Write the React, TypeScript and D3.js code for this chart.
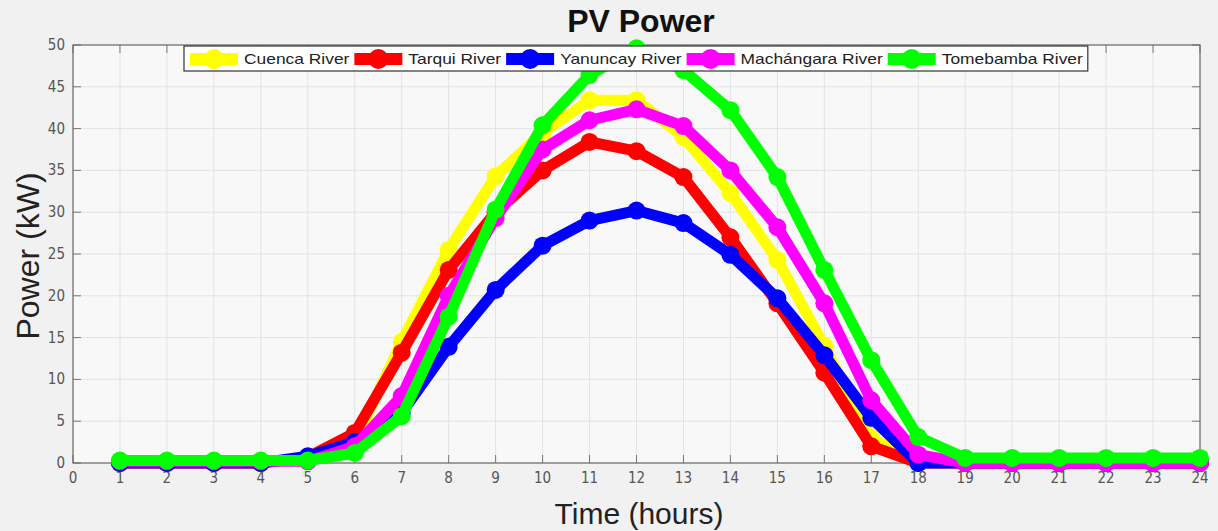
import { useEffect, useRef } from 'react';
import * as d3 from 'd3';

const hours = [1, 2, 3, 4, 5, 6, 7, 8, 9, 10, 11, 12, 13, 14, 15, 16, 17, 18, 19, 20, 21, 22, 23, 24];

const cuenca = [0, 0, 0, 0, 0.5, 2.5, 14.5, 25.5, 34.3, 39.5, 43.4, 43.4, 39, 32.3, 24.3, 14, 3, 0, 0, 0, 0, 0, 0, 0];
const tarqui = [0, 0, 0, 0, 0.7, 3.6, 13.2, 23.1, 30, 35, 38.4, 37.3, 34.2, 27, 19.1, 10.8, 2, 0, 0, 0, 0, 0, 0, 0];
const yanuncay = [0, 0, 0, 0, 0.8, 2.5, 6, 13.9, 20.7, 26, 29, 30.2, 28.7, 24.9, 19.7, 12.9, 5.4, 0, 0, 0, 0, 0, 0, 0];
const machangara = [0.2, 0.2, 0.2, 0.2, 0.2, 2, 8, 20, 29.3, 37.5, 41, 42.3, 40.3, 35, 28.2, 19.1, 7.5, 1, 0, 0, 0, 0, 0, 0];
const tomebamba = [0.3, 0.3, 0.3, 0.3, 0.3, 1.2, 5.6, 17.5, 30.3, 40.4, 46.4, 49.6, 47, 42.2, 34.2, 23.1, 12.3, 3.1, 0.6, 0.6, 0.6, 0.6, 0.6, 0.6];

const seriesNames = ['Cuenca River', 'Tarqui River', 'Yanuncay River', 'Machángara River', 'Tomebamba River'];
const seriesColors = ['#ffff00', '#ff0000', '#0000ff', '#ff00ff', '#00ff00'];
const seriesValues = [cuenca, tarqui, yanuncay, machangara, tomebamba];

const xTicks = d3.range(0, 25);
const yTicks = [0, 5, 10, 15, 20, 25, 30, 35, 40, 45, 50];

export default function App() {
  const svgRef = useRef<SVGSVGElement>(null);

  useEffect(() => {
    if (!svgRef.current) return;
    document.body.style.margin = '0';
    const svg = d3.select(svgRef.current);
    svg.selectAll('*').remove();

    const width = 1218;
    const height = 531;
    const m = { left: 73, right: 1200, top: 45, bottom: 463 };

    const x = d3.scaleLinear().domain([0, 24]).range([m.left, m.right]);
    const y = d3.scaleLinear().domain([0, 50]).range([m.bottom, m.top]);

    const narrow = '"DejaVu Sans Condensed", "Liberation Sans", Arial, sans-serif';
    const sans = '"Liberation Sans", Arial, Helvetica, sans-serif';

    // fondo
    svg.append('rect').attr('width', width).attr('height', height).attr('fill', '#f1f1f1');
    svg.append('rect')
      .attr('x', m.left).attr('y', m.top)
      .attr('width', m.right - m.left).attr('height', m.bottom - m.top)
      .attr('fill', '#f8f8f8');

    // rejilla
    const grid = svg.append('g');
    grid.selectAll('line.gx')
      .data(xTicks.slice(1, -1))
      .join('line')
      .attr('x1', d => x(d)).attr('x2', d => x(d))
      .attr('y1', m.top).attr('y2', m.bottom)
      .attr('stroke', '#e3e3e3').attr('stroke-width', 1);
    grid.selectAll('line.gy')
      .data(yTicks.slice(1, -1))
      .join('line')
      .attr('class', 'gy')
      .attr('x1', m.left).attr('x2', m.right)
      .attr('y1', d => y(d)).attr('y2', d => y(d))
      .attr('stroke', '#e3e3e3').attr('stroke-width', 1);

    // ticks hacia adentro
    const ticks = svg.append('g').attr('stroke', '#777').attr('stroke-width', 1);
    xTicks.forEach(t => {
      ticks.append('line').attr('x1', x(t)).attr('x2', x(t)).attr('y1', m.bottom).attr('y2', m.bottom - 8);
      ticks.append('line').attr('x1', x(t)).attr('x2', x(t)).attr('y1', m.top).attr('y2', m.top + 8);
    });
    yTicks.forEach(t => {
      ticks.append('line').attr('x1', m.left).attr('x2', m.left + 8).attr('y1', y(t)).attr('y2', y(t));
      ticks.append('line').attr('x1', m.right).attr('x2', m.right - 8).attr('y1', y(t)).attr('y2', y(t));
    });

    svg.append('rect')
      .attr('x', m.left).attr('y', m.top)
      .attr('width', m.right - m.left).attr('height', m.bottom - m.top)
      .attr('fill', 'none').attr('stroke', '#666').attr('stroke-width', 1.2);

    // etiquetas de ticks
    svg.append('g').selectAll('text')
      .data(xTicks)
      .join('text')
      .attr('x', d => x(d)).attr('y', m.bottom + 20)
      .attr('text-anchor', 'middle')
      .attr('font-family', narrow).attr('font-size', 15).attr('fill', '#555')
      .text(d => d);
    svg.append('g').selectAll('text')
      .data(yTicks)
      .join('text')
      .attr('x', m.left - 8).attr('y', d => y(d) + 5)
      .attr('text-anchor', 'end')
      .attr('font-family', narrow).attr('font-size', 15).attr('fill', '#555')
      .text(d => d);

    // series
    const line = d3.line<number>()
      .x((_, i) => x(hours[i]))
      .y(d => y(d));

    seriesValues.forEach((vals, si) => {
      const g = svg.append('g');
      g.append('path')
        .datum(vals)
        .attr('d', line)
        .attr('fill', 'none')
        .attr('stroke', seriesColors[si])
        .attr('stroke-width', 11)
        .attr('stroke-linejoin', 'round');
      g.selectAll('circle')
        .data(vals)
        .join('circle')
        .attr('cx', (_, i) => x(hours[i]))
        .attr('cy', d => y(d))
        .attr('r', 9)
        .attr('fill', seriesColors[si]);
    });

    // leyenda
    const legend = svg.append('g');
    const legBox = legend.append('rect')
      .attr('y', 46).attr('height', 25)
      .attr('fill', '#ffffff').attr('stroke', '#333').attr('stroke-width', 1.2);
    let cx = 190;
    seriesNames.forEach((name, si) => {
      legend.append('line')
        .attr('x1', cx).attr('x2', cx + 48)
        .attr('y1', 59).attr('y2', 59)
        .attr('stroke', seriesColors[si]).attr('stroke-width', 12);
      legend.append('circle')
        .attr('cx', cx + 24).attr('cy', 59).attr('r', 10)
        .attr('fill', seriesColors[si]);
      const sx = 1.16;
      const txt = legend.append('text')
        .attr('transform', `translate(${cx + 54}, 64) scale(${sx}, 1)`)
        .attr('font-family', sans).attr('font-size', 15).attr('fill', '#222')
        .text(name);
      const w = (txt.node() as SVGTextElement).getComputedTextLength() * sx;
      cx = cx + 54 + w + 5;
    });
    legBox.attr('x', 184).attr('width', cx - 184);

    // títulos
    svg.append('text')
      .attr('x', 641).attr('y', 32)
      .attr('text-anchor', 'middle')
      .attr('font-family', sans).attr('font-size', 32).attr('font-weight', 'bold').attr('fill', '#111')
      .text('PV Power');
    svg.append('text')
      .attr('x', 639).attr('y', 524)
      .attr('text-anchor', 'middle')
      .attr('font-family', sans).attr('font-size', 30).attr('fill', '#222')
      .text('Time (hours)');
    svg.append('text')
      .attr('transform', `translate(39, ${(m.top + m.bottom) / 2 + 2}) rotate(-90)`)
      .attr('text-anchor', 'middle')
      .attr('font-family', sans).attr('font-size', 32).attr('fill', '#222')
      .text('Power (kW)');
  }, []);

  return (
    <div style={{ width: 1218, height: 531 }}>
      <svg ref={svgRef} width={1218} height={531} style={{ display: 'block' }}></svg>
    </div>
  );
}
